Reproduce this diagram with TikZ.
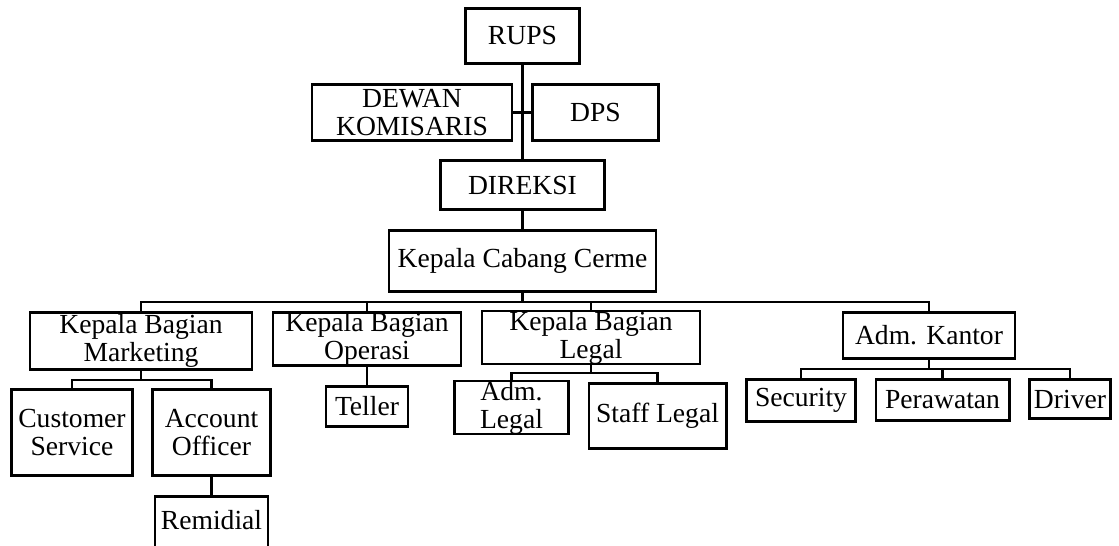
\documentclass[tikz,border=0pt]{standalone}
\usepackage{fontspec}
\setmainfont{Liberation Serif}
\usepackage{tikz}
\usetikzlibrary{positioning,calc}
\tikzset{box/.style={draw, rectangle, inner sep=0pt, align=center,
font=\fontsize{27.6bp}{28bp}\selectfont},
line/.style={line width=2.5bp}}

\begin{document}
\begin{tikzpicture}[x=1bp, y=-1bp, line width=2.5bp]
        \useasboundingbox (0,0) rectangle (1119,546);
        \node[box, minimum width=114, minimum height=55] (rups) at (522.5, 36) {RUPS};
        \node[box, minimum width=201, minimum height=56] (dewan) at (412, 112.5) {DEWAN\\KOMISARIS};
        \node[box, minimum width=126, minimum height=56] (dps) at (595.5, 112.5) {DPS};
        \node[box, minimum width=165, minimum height=49] (direksi) at (522.5, 185) {DIREKSI};
        \node[box, minimum width=268, minimum height=61] (cabang) at (522.5, 261) {Kepala Cabang Cerme};

        \node[box, minimum width=223, minimum height=57] (marketing) at (141, 341) {Kepala Bagian\\Marketing};
        \node[box, minimum width=189, minimum height=53] (operasi) at (367, 339) {Kepala Bagian\\Operasi};
        \node[box, minimum width=219, minimum height=50] (legal) at (591, 337.5) {Kepala Bagian\\Legal};
        \node[box, minimum width=173, minimum height=46] (kantor) at (929, 335.5) {Adm. Kantor};

        \node[box, minimum width=121, minimum height=86] (cs) at (72, 432.5) {Customer\\Service};
        \node[box, minimum width=118, minimum height=86] (ao) at (211.5, 432.5) {Account\\Officer};
        \node[box, minimum width=113, minimum height=62, text depth=16bp] (remidial) at (211.5, 527.5) {Remidial};
        \node[box, minimum width=82, minimum height=40] (teller) at (367, 406.5) {Teller};
        \node[box, minimum width=114, minimum height=48] (admlegal) at (511.5, 407.5) {Adm.\\Legal};
        \node[box, minimum width=138, minimum height=65] (staff) at (657.5, 416) {Staff Legal};
        \node[box, minimum width=109, minimum height=42] (security) at (801, 400.5) {Security};
        \node[box, minimum width=134, minimum height=41] (perawatan) at (942.5, 400) {Perawatan};
        \node[box, minimum width=81, minimum height=39] (driver) at (1070, 399) {Driver};

        \coordinate (mainbus) at (522.5, 302);
        \coordinate (mktbus) at (141, 380);
        \coordinate (legbus) at (591, 373);
        \coordinate (kanbus) at (929, 369);

        \draw (rups) -- (direksi)
              (dewan) -- (dps)
              (direksi) -- (cabang)
              (cabang) -- (mainbus);
        \draw (marketing) |- (mainbus) -| (kantor);
        \draw (operasi) -- (operasi |- mainbus)
              (legal) -- (legal |- mainbus);

        \draw (marketing) -- (mktbus);
        \draw (cs) |- (mktbus) -| (ao);
        \draw (ao) -- (remidial)
              (operasi) -- (teller);

        \draw (legal) -- (legbus);
        \draw (admlegal) |- (legbus) -| (staff);

        \draw (kantor) -- (kanbus);
        \draw (security) |- (kanbus) -| (driver);
        \draw (perawatan) -- (perawatan |- kanbus);
\end{tikzpicture}
\end{document}
